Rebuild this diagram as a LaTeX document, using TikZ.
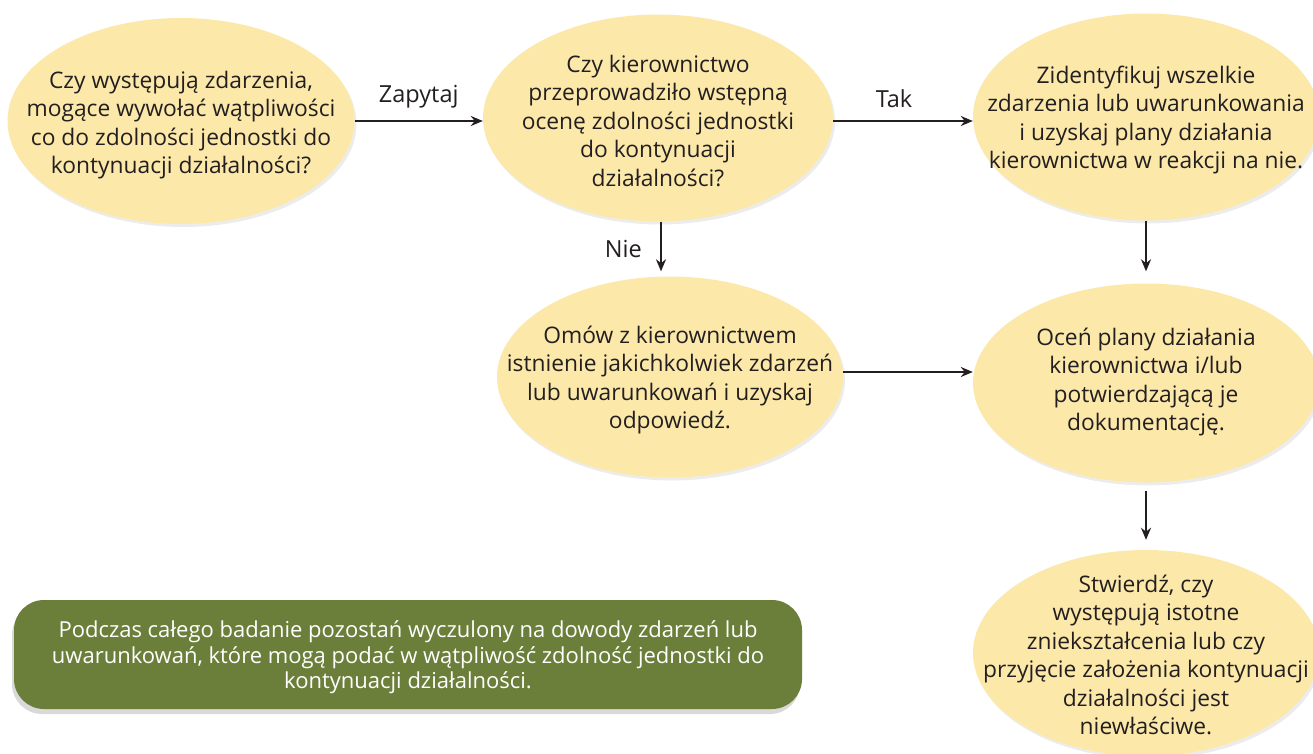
\documentclass[tikz,border=0pt]{standalone}
\usepackage{fontspec}
\setmainfont{Open Sans}
\usetikzlibrary{shapes.geometric,arrows.meta,shadows}
\definecolor{ellfill}{HTML}{FCE9AA}
\definecolor{boxgreen}{HTML}{6B7F3A}
\definecolor{txt}{HTML}{231F20}
\tikzset{
  ell/.style={ellipse, fill=ellfill, inner sep=0pt,
    drop shadow={opacity=0.15, shadow xshift=2pt, shadow yshift=-3pt}},
  etext/.style={align=center, text=txt, inner sep=0pt,
    font=\fontsize{22.8}{28.5}\selectfont},
  arr/.style={-{Stealth[length=12pt,width=10pt]}, line width=1.8pt, draw=txt},
  lbl/.style={font=\fontsize{23.5}{28}\selectfont, text=txt},
  greenbox/.style={rounded corners=30pt, fill=boxgreen,
    drop shadow={opacity=0.3, shadow xshift=-2pt, shadow yshift=-5pt}},
  gtext/.style={text=white, align=center, inner sep=0pt,
    font=\fontsize{22}{25.5}\selectfont}
}
\begin{document}
\begin{tikzpicture}[x=1pt,y=-1pt]
\useasboundingbox (0,0) rectangle (1313,754);
\node[ell, minimum width=347pt, minimum height=206pt] (e1) at (181,121) {};
\node[etext] (t1) at ([yshift=-4pt]e1.center)
  {Czy występują zdarzenia,\\mogące wywołać wątpliwości\\co do zdolności jednostki do\\kontynuacji działalności?};
\node[ell, minimum width=350pt, minimum height=207pt] (e2) at (658,118) {};
\node[etext] (t2) at ([yshift=-3pt]e2.center)
  {Czy kierownictwo\\przeprowadziło wstępną\\ocenę zdolności jednostki\\do kontynuacji\\działalności?};
\node[ell, minimum width=346pt, minimum height=207pt] (e3) at (1146,117) {};
\node[etext] (t3) at ([yshift=-3pt]e3.center)
  {Zidentyfikuj wszelkie\\zdarzenia lub uwarunkowania\\i uzyskaj plany działania\\kierownictwa w reakcji na nie.};
\node[ell, minimum width=346pt, minimum height=201pt] (e4) at (670,377) {};
\node[etext] (t4) at ([yshift=-3pt]e4.center)
  {Omów z kierownictwem\\istnienie jakichkolwiek zdarzeń\\lub uwarunkowań i uzyskaj\\odpowiedź.};
\node[ell, minimum width=346pt, minimum height=199pt] (e5) at (1146,383) {};
\node[etext] (t5) at ([yshift=1pt]e5.center)
  {Oceń plany działania\\kierownictwa i/lub\\potwierdzającą je\\dokumentację.};
\node[ell, minimum width=346pt, minimum height=206pt] (e6) at (1146,653) {};
\node[etext] (t6) at ([yshift=-2pt]e6.center)
  {Stwierdź, czy\\występują istotne\\zniekształcenia lub czy\\przyjęcie założenia kontynuacji\\działalności jest\\niewłaściwe.};
\node[greenbox, minimum width=788pt, minimum height=109pt] (g) at (408,654.5) {};
\node[gtext] (gt) at ([yshift=-3pt]g.center)
  {Podczas całego badanie pozostań wyczulony na dowody zdarzeń lub\\uwarunkowań, które mogą podać w wątpliwość zdolność jednostki do\\kontynuacji działalności.};
\coordinate (a1) at (e1.east);
\draw[arr] (a1) -- node[lbl, above=9pt] (l1) {Zapytaj} (a1 -| e2.west);
\draw[arr] (a1 -| e2.east) -- node[lbl, above=9pt, xshift=-9pt] (l2) {Tak} (a1 -| e3.west);
\coordinate (d1) at ([xshift=3pt]e2.south);
\draw[arr, shorten >=5pt] (d1) -- node[lbl, left=15pt] (l3) {Nie} (d1 |- e4.north);
\draw[arr, shorten >=12pt] (e3.south) -- (e5.north);
\coordinate (a2) at ([yshift=5pt]e4.east);
\draw[arr] (a2) -- (a2 -| e5.west);
\draw[arr, shorten <=8pt, shorten >=10pt] (e5.south) -- (e6.north);
\end{tikzpicture}
\end{document}
